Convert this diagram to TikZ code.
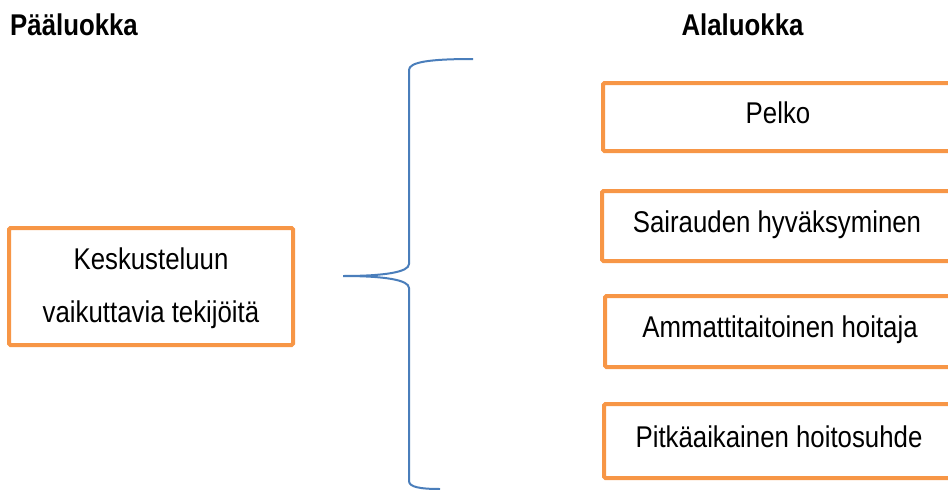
\documentclass[tikz,border=0pt]{standalone}
\usepackage{fontspec}
\setmainfont[FakeStretch=0.86]{Liberation Sans}
\definecolor{boxorange}{RGB}{247,150,70}
\definecolor{braceblue}{RGB}{74,126,187}

\begin{document}
\begin{tikzpicture}[x=1pt,y=-1pt,
  catbox/.style={draw=boxorange, line width=4pt, rounded corners=1.5pt,
    inner sep=0pt, font=\fontsize{30}{36}\selectfont},
  subbox/.style={catbox, minimum width=350pt, text height=21.5pt, text depth=9.5pt},
  header/.style={font=\fontsize{30}{36}\selectfont\bfseries, inner sep=0pt},
  bracestroke/.style={draw=braceblue, line width=2pt}]
\useasboundingbox (0,0) rectangle (948,490);
\clip (0,0) rectangle (948,490);

% column headings
\node[header, anchor=base west] (mainhead) at (10,35) {Pääluokka};
\node[header, anchor=base] (subhead) at (742.5,35) {Alaluokka};

% main category
\node[catbox, minimum width=284pt, minimum height=117pt] (main) at (151,286.5) {};
\node[font=\fontsize{30}{53}\selectfont, align=center, inner sep=0pt]
  (maintext) at ([yshift=-2.2pt]main.center) {Keskusteluun\\vaikuttavia tekijöitä};

% subcategories
\node[subbox, minimum height=68pt] (s1) at (778,117) {Pelko};
\node[subbox, minimum height=70pt] (s2) at (777,226) {Sairauden hyväksyminen};
\node[subbox, minimum height=71pt] (s3) at (780,331.5) {Ammattitaitoinen hoitaja};
\node[subbox, minimum height=74pt] (s4) at (779,441) {Pitkäaikainen hoitosuhde};

% curly brace
\coordinate (btop) at (473,59);
\coordinate (bmid) at (343,276);
\coordinate (bbot) at (440,489);
\draw[bracestroke]
  (btop) .. controls (430,59) and (409,62) .. (409,70)
  -- (409,264) .. controls (409,272) and (385,276) .. (bmid)
  .. controls (385,276) and (409,280) .. (409,288)
  -- (409,481) .. controls (409,487) and (420,489) .. (bbot);
\end{tikzpicture}
\end{document}
